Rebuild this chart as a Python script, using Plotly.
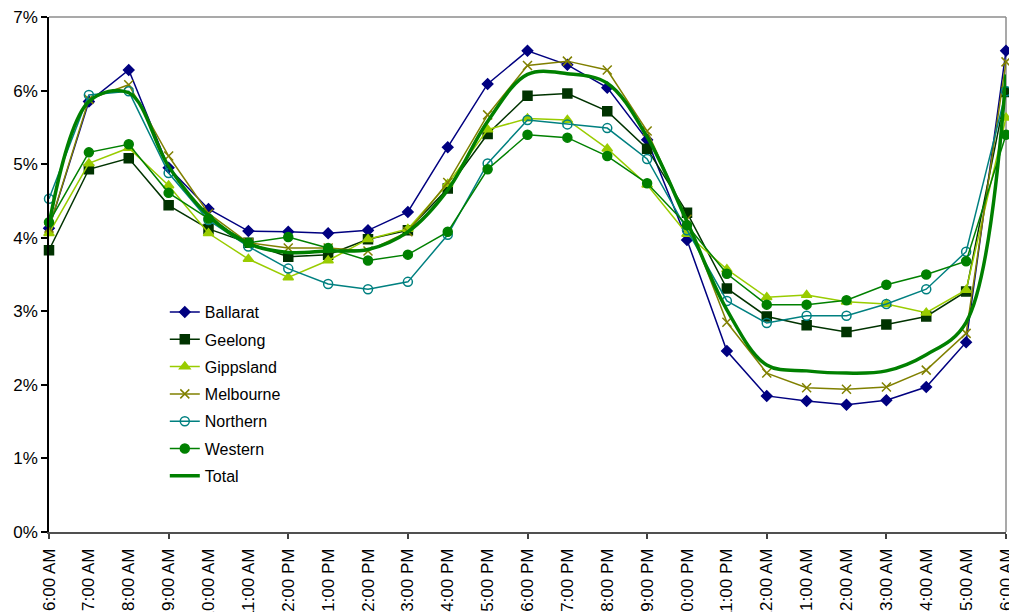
import plotly.graph_objects as go

# Hour-of-day categories (6 AM through to 6 AM the following day)
hours = ["6:00 AM", "7:00 AM", "8:00 AM", "9:00 AM", "10:00 AM", "11:00 AM",
         "12:00 PM", "1:00 PM", "2:00 PM", "3:00 PM", "4:00 PM", "5:00 PM",
         "6:00 PM", "7:00 PM", "8:00 PM", "9:00 PM", "10:00 PM", "11:00 PM",
         "12:00 AM", "1:00 AM", "2:00 AM", "3:00 AM", "4:00 AM", "5:00 AM",
         "6:00 AM"]

# Share of daily volume per hour (%)
ballarat = [4.13, 5.85, 6.28, 4.95, 4.39, 4.09, 4.08, 4.06, 4.10, 4.35, 5.23, 6.09,
            6.54, 6.35, 6.04, 5.33, 3.97, 2.46, 1.85, 1.78, 1.73, 1.79, 1.97, 2.58, 6.54]
geelong = [3.83, 4.93, 5.08, 4.44, 4.12, 3.93, 3.74, 3.77, 3.98, 4.10, 4.67, 5.41,
           5.93, 5.96, 5.72, 5.21, 4.34, 3.31, 2.93, 2.81, 2.72, 2.82, 2.93, 3.27, 5.98]
gippsland = [4.06, 5.01, 5.22, 4.71, 4.06, 3.71, 3.46, 3.69, 3.98, 4.12, 4.73, 5.47,
             5.62, 5.60, 5.21, 4.72, 4.05, 3.57, 3.19, 3.22, 3.13, 3.10, 2.98, 3.29, 5.63]
melbourne = [4.13, 5.88, 6.08, 5.11, 4.33, 3.93, 3.86, 3.86, 3.82, 4.08, 4.75, 5.67,
             6.34, 6.40, 6.28, 5.45, 4.25, 2.85, 2.16, 1.96, 1.94, 1.97, 2.20, 2.70, 6.39]
northern = [4.53, 5.94, 5.99, 4.88, 4.24, 3.88, 3.58, 3.37, 3.30, 3.40, 4.04, 5.01,
            5.60, 5.54, 5.49, 5.07, 4.10, 3.14, 2.84, 2.94, 2.94, 3.10, 3.30, 3.81, 5.99]
western = [4.21, 5.16, 5.27, 4.61, 4.26, 3.93, 4.01, 3.86, 3.69, 3.77, 4.08, 4.93,
           5.40, 5.36, 5.11, 4.74, 4.17, 3.51, 3.09, 3.09, 3.15, 3.36, 3.50, 3.68, 5.40]
total = [4.18, 5.85, 5.97, 4.97, 4.30, 3.92, 3.80, 3.82, 3.84, 4.08, 4.65, 5.58,
         6.22, 6.23, 6.10, 5.37, 4.22, 3.02, 2.27, 2.19, 2.16, 2.19, 2.41, 2.85, 6.22]

x = list(range(len(hours)))
FONT = "Liberation Sans, Arial, sans-serif"

series = [
    ("Ballarat", ballarat, "#000080", "diamond", 8),
    ("Geelong", geelong, "#003300", "square", 9),
    ("Gippsland", gippsland, "#99CC00", "triangle-up", 9),
    ("Melbourne", melbourne, "#808000", "x-thin-open", 9),
    ("Northern", northern, "#008080", "circle-open", 9),
    ("Western", western, "#008000", "circle", 9),
]

fig = go.Figure()
for name, vals, color, symbol, size in series:
    fig.add_trace(go.Scatter(
        x=x, y=vals, name=name, legendgroup=name, mode="lines+markers",
        line=dict(color=color, width=1.5),
        marker=dict(symbol=symbol, size=size, color=color,
                    line=dict(color=color, width=1.5)),
        cliponaxis=False,
    ))

fig.add_trace(go.Scatter(
    x=x, y=total, name="Total", legendgroup="Total", mode="lines",
    line=dict(color="#008000", width=3.5, shape="spline", smoothing=1.0),
    cliponaxis=False,
))

fig.update_layout(
    width=1009, height=612,
    margin=dict(l=49, r=3, t=17, b=80),
    paper_bgcolor="white", plot_bgcolor="white",
    font=dict(family=FONT, color="black", size=16),
    showlegend=True,
    legend=dict(x=0.121, y=0.46, xanchor="left", yanchor="top",
                tracegroupgap=3.5, traceorder="grouped",
                bgcolor="rgba(0,0,0,0)", font=dict(size=16, family=FONT)),
    xaxis=dict(
        range=[0, 24], tickmode="array", tickvals=x, ticktext=hours,
        tickangle=-90, ticks="outside", ticklen=8, tickcolor="rgba(0,0,0,0)",
        minor=dict(tickmode="array", tickvals=list(range(0, 25, 3)),
                   ticks="outside", ticklen=5, tickcolor="#404040", tickwidth=1.5),
        showline=True, linecolor="#505050", linewidth=1.5,
        showgrid=False, zeroline=False, automargin=False,
        ticklabeloverflow="allow",
        tickfont=dict(size=17, family=FONT),
    ),
    yaxis=dict(
        range=[0, 7], dtick=1, ticksuffix="%", ticks="outside", ticklen=6,
        tickcolor="black", tickwidth=1.5, showline=True, linecolor="black",
        linewidth=1.5, showgrid=False, zeroline=False, automargin=False,
        tickfont=dict(size=17, family=FONT),
    ),
    shapes=[
        dict(type="line", xref="paper", yref="paper", x0=0, x1=1, y0=1, y1=1,
             line=dict(color="#8c8c8c", width=1.5), layer="below"),
        dict(type="line", xref="paper", yref="paper", x0=1, x1=1, y0=0, y1=1,
             line=dict(color="#8c8c8c", width=1.5), layer="below"),
    ],
)

fig.write_html("out.html")
